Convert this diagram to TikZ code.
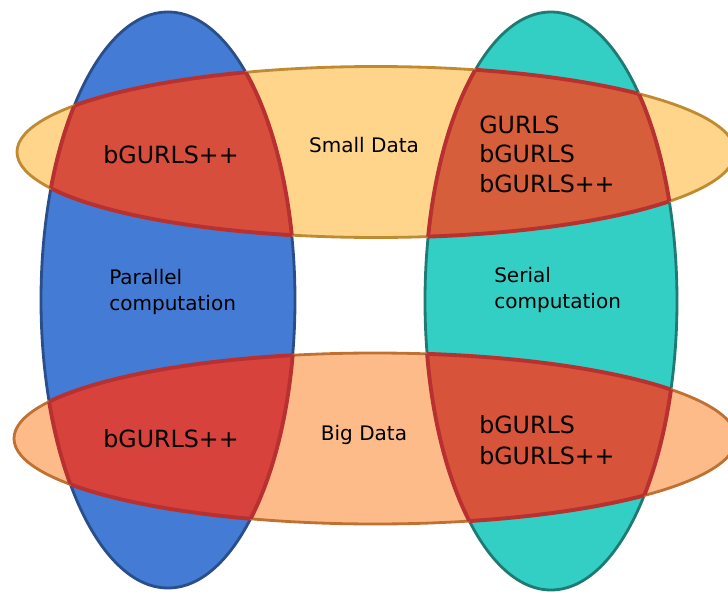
\documentclass[tikz,border=0pt]{standalone}
\usepackage{fontspec}
\setmainfont{DejaVu Sans}

\definecolor{parfill}{RGB}{68,123,212}
\definecolor{pardraw}{RGB}{42,78,138}
\definecolor{serfill}{RGB}{51,206,196}
\definecolor{serdraw}{RGB}{30,122,114}
\definecolor{smallfill}{RGB}{254,213,139}
\definecolor{smalldraw}{RGB}{192,138,48}
\definecolor{bigfill}{RGB}{253,187,138}
\definecolor{bigdraw}{RGB}{192,112,48}
\definecolor{cutdraw}{RGB}{184,48,48}
\definecolor{cutTL}{RGB}{216,78,60}
\definecolor{cutTR}{RGB}{214,94,58}
\definecolor{cutBL}{RGB}{216,66,61}
\definecolor{cutBR}{RGB}{215,83,58}

% the four sets
\def\parset{(168,300) ellipse [x radius=127, y radius=288]}
\def\serset{(551,301) ellipse [x radius=126, y radius=289]}
\def\smallset{(376,152) ellipse [x radius=359, y radius=85.5]}
\def\bigset{(375,438.5) ellipse [x radius=361, y radius=85.5]}

% fill and outline where two sets overlap
\newcommand{\overlap}[3]{%
  \begin{scope}
    \clip #1;
    \fill[#3] #2;
    \draw[cutdraw,line width=2.2pt] #2;
  \end{scope}
  \begin{scope}
    \clip #2;
    \draw[cutdraw,line width=2.2pt] #1;
  \end{scope}}

\begin{document}
\begin{tikzpicture}[x=0.02cm,y=-0.02cm,line width=1.6pt,
  big/.style={font=\fontsize{13.5}{17}\selectfont},
  small/.style={font=\fontsize{11.4}{14.6}\selectfont}]
\useasboundingbox (0,0) rectangle (728,592);

\filldraw[fill=parfill,draw=pardraw] \parset;
\filldraw[fill=serfill,draw=serdraw] \serset;
\filldraw[fill=smallfill,draw=smalldraw] \smallset;
\filldraw[fill=bigfill,draw=bigdraw] \bigset;

\overlap{\parset}{\smallset}{cutTL}
\overlap{\serset}{\smallset}{cutTR}
\overlap{\parset}{\bigset}{cutBL}
\overlap{\serset}{\bigset}{cutBR}

% labels of the sets
\node[small] (smalldata) at (364,145) {Small Data};
\node[small] (bigdata) at (364,435) {Big Data};
\node[small,anchor=west,align=left] (parallel) at (102,292) {Parallel\\computation};
\node[small,anchor=west,align=left] (serial) at (487,290) {Serial\\computation};

% what lies in each overlap
\node[big] (tl) at (171,155) {bGURLS++};
\node[big,anchor=west,align=left,font=\fontsize{13.5}{16.8}\selectfont] (tr) at (472,154) {GURLS\\bGURLS\\bGURLS++};
\node[big] (bl) at (171,439) {bGURLS++};
\node[big,anchor=west,align=left,font=\fontsize{13.5}{17.4}\selectfont] (br) at (472,440) {bGURLS\\bGURLS++};
\end{tikzpicture}
\end{document}
